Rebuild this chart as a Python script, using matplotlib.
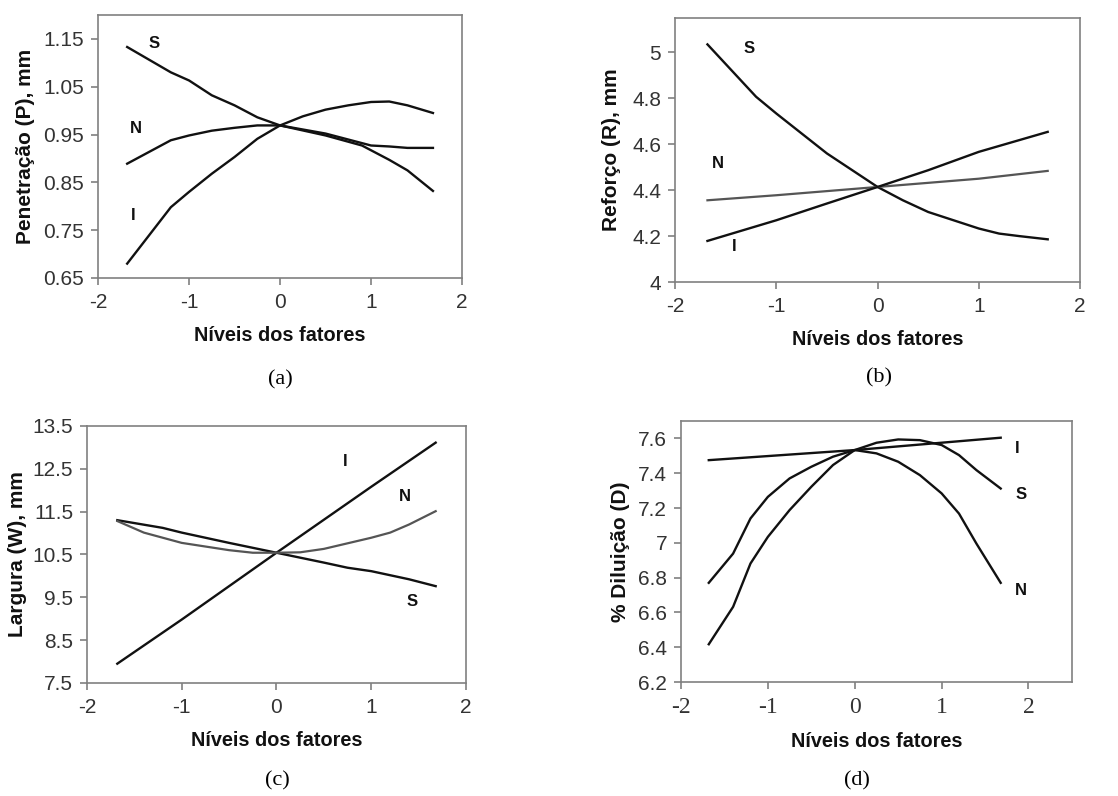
import matplotlib
matplotlib.use("Agg")
import matplotlib.pyplot as plt

plt.rcParams['font.family'] = ['Liberation Sans', 'DejaVu Sans']

# ---------------- data ----------------
# (a) Penetração
xa_S = [-1.68, -1.2, -1.0, -0.75, -0.5, -0.25, 0.0, 0.5, 0.9, 1.0, 1.2, 1.4, 1.68]
ya_S = [1.133, 1.080, 1.063, 1.032, 1.011, 0.986, 0.969, 0.948, 0.927, 0.917, 0.897, 0.875, 0.832]
xa_N = [-1.68, -1.2, -1.0, -0.75, -0.5, -0.25, 0.0, 0.5, 1.0, 1.2, 1.4, 1.68]
ya_N = [0.889, 0.938, 0.948, 0.958, 0.964, 0.969, 0.969, 0.952, 0.927, 0.925, 0.922, 0.922]
xa_I = [-1.68, -1.2, -1.0, -0.75, -0.5, -0.25, 0.0, 0.25, 0.5, 0.75, 1.0, 1.2, 1.4, 1.68]
ya_I = [0.680, 0.798, 0.830, 0.868, 0.903, 0.941, 0.969, 0.988, 1.002, 1.011, 1.018, 1.019, 1.011, 0.995]

# (b) Reforço
xb_S = [-1.68, -1.2, -1.0, -0.75, -0.5, -0.25, 0.0, 0.25, 0.5, 0.75, 1.0, 1.2, 1.4, 1.68]
yb_S = [5.035, 4.807, 4.734, 4.647, 4.560, 4.487, 4.414, 4.356, 4.305, 4.269, 4.233, 4.211, 4.200, 4.186]
xb_N = [-1.68, -1.0, 0.0, 1.0, 1.68]
yb_N = [4.356, 4.378, 4.414, 4.450, 4.484]
xb_I = [-1.68, -1.0, -0.5, 0.0, 0.5, 1.0, 1.68]
yb_I = [4.179, 4.269, 4.342, 4.414, 4.487, 4.567, 4.654]

# (c) Largura
xc_I = [-1.68, -1.0, 0.0, 1.0, 1.68]
yc_I = [7.95, 8.98, 10.54, 12.08, 13.11]
xc_S = [-1.68, -1.2, -1.0, -0.5, 0.0, 0.5, 0.75, 1.0, 1.4, 1.68]
yc_S = [11.30, 11.12, 11.01, 10.77, 10.54, 10.31, 10.19, 10.11, 9.92, 9.76]
xc_N = [-1.68, -1.4, -1.0, -0.5, -0.25, 0.0, 0.25, 0.5, 0.75, 1.0, 1.2, 1.4, 1.68]
yc_N = [11.28, 11.01, 10.77, 10.60, 10.54, 10.54, 10.55, 10.63, 10.76, 10.89, 11.01, 11.20, 11.51]

# (d) Diluição
xd_I = [-1.68, 0.0, 1.68]
yd_I = [7.475, 7.533, 7.604]
xd_S = [-1.68, -1.4, -1.2, -1.0, -0.75, -0.5, -0.25, 0.0, 0.25, 0.5, 0.75, 1.0, 1.2, 1.4, 1.68]
yd_S = [6.770, 6.938, 7.140, 7.264, 7.370, 7.437, 7.495, 7.533, 7.575, 7.594, 7.590, 7.562, 7.504, 7.418, 7.312]
xd_N = [-1.68, -1.4, -1.2, -1.0, -0.75, -0.5, -0.25, 0.0, 0.25, 0.5, 0.75, 1.0, 1.2, 1.4, 1.68]
yd_N = [6.417, 6.632, 6.881, 7.034, 7.188, 7.322, 7.447, 7.533, 7.514, 7.466, 7.389, 7.284, 7.168, 6.996, 6.770]

xlabel = "Níveis dos fatores"

# ---------------- figure ----------------
fig = plt.figure(figsize=(11.18, 7.96), dpi=100)
fig.patch.set_facecolor('white')

spine_col = '#808080'
tick_col = '#333333'
TICK_FS = 15
XLAB_FS = 14.3
YLAB_FS = 15


def style(ax, xlim, ylim, yticks, yticklabels, xserif=False):
    ax.set_xlim(*xlim)
    ax.set_ylim(*ylim)
    ax.set_xticks([-2, -1, 0, 1, 2])
    ax.set_xticklabels(['-2', '-1', '0', '1', '2'])
    ax.set_yticks(yticks)
    ax.set_yticklabels(yticklabels)
    for s in ax.spines.values():
        s.set_color(spine_col)
        s.set_linewidth(1.2)
    ax.tick_params(direction='out', length=5, width=1.2, color=spine_col,
                   labelcolor=tick_col, labelsize=TICK_FS)
    ax.tick_params(axis='x', pad=6)
    ax.tick_params(axis='y', pad=5)
    if xserif:
        for t in ax.get_xticklabels():
            t.set_family(['Liberation Serif', 'DejaVu Serif'])
            t.set_fontsize(17)
    ax.set_xlabel(xlabel, fontsize=XLAB_FS, fontweight='bold', color='#111111', labelpad=10)


def lbl(ax, x, y, s):
    ax.text(x, y, s, fontsize=12, fontweight='bold', color='#111111', ha='center', va='center')


blk = dict(color='#111111', lw=1.7)
gry = dict(color='#555555', lw=1.6)

# (a)
ax = fig.add_axes([0.0877, 0.6508, 0.3256, 0.3304])
ax.plot(xa_S, ya_S, **blk)
ax.plot(xa_N, ya_N, **blk)
ax.plot(xa_I, ya_I, **blk)
style(ax, (-2, 2), (0.65, 1.2), [0.65, 0.75, 0.85, 0.95, 1.05, 1.15],
      ['0.65', '0.75', '0.85', '0.95', '1.05', '1.15'])
ax.set_ylabel("Penetração (P), mm", fontsize=YLAB_FS, fontweight='bold', color='#111111', labelpad=6)
lbl(ax, -1.38, 1.14, 'S')
lbl(ax, -1.58, 0.962, 'N')
lbl(ax, -1.61, 0.78, 'I')
fig.text(280 / 1118, 1 - 380 / 796, '(a)', fontsize=16, ha='center', va='center',
         family=['Liberation Serif', 'DejaVu Serif'])

# (b)
ax = fig.add_axes([0.6038, 0.6457, 0.3623, 0.3317])
ax.plot(xb_S, yb_S, **blk)
ax.plot(xb_N, yb_N, **gry)
ax.plot(xb_I, yb_I, **blk)
style(ax, (-2, 2), (4.0, 5.15), [4.0, 4.2, 4.4, 4.6, 4.8, 5.0],
      ['4', '4.2', '4.4', '4.6', '4.8', '5'])
ax.set_ylabel("Reforço (R), mm", fontsize=YLAB_FS, fontweight='bold', color='#111111', labelpad=8)
lbl(ax, -1.27, 5.017, 'S')
lbl(ax, -1.58, 4.516, 'N')
lbl(ax, -1.42, 4.153, 'I')
fig.text(879 / 1118, 1 - 378 / 796, '(b)', fontsize=16, ha='center', va='center',
         family=['Liberation Serif', 'DejaVu Serif'])

# (c)
ax = fig.add_axes([0.0778, 0.1420, 0.3390, 0.3229])
ax.plot(xc_I, yc_I, **blk)
ax.plot(xc_S, yc_S, **blk)
ax.plot(xc_N, yc_N, **gry)
style(ax, (-2, 2), (7.5, 13.5), [7.5, 8.5, 9.5, 10.5, 11.5, 12.5, 13.5],
      ['7.5', '8.5', '9.5', '10.5', '11.5', '12.5', '13.5'])
ax.set_ylabel("Largura (W), mm", fontsize=YLAB_FS, fontweight='bold', color='#111111', labelpad=4)
lbl(ax, 0.73, 12.68, 'I')
lbl(ax, 1.35, 11.85, 'N')
lbl(ax, 1.43, 9.41, 'S')
fig.text(277 / 1118, 1 - 781 / 796, '(c)', fontsize=16, ha='center', va='center',
         family=['Liberation Serif', 'DejaVu Serif'])

# (d)
ax = fig.add_axes([0.6091, 0.1432, 0.3497, 0.3279])
ax.plot(xd_I, yd_I, **blk)
ax.plot(xd_S, yd_S, **blk)
ax.plot(xd_N, yd_N, **blk)
style(ax, (-2, 2.5), (6.2, 7.7), [6.2, 6.4, 6.6, 6.8, 7.0, 7.2, 7.4, 7.6],
      ['6.2', '6.4', '6.6', '6.8', '7', '7.2', '7.4', '7.6'], xserif=True)
ax.set_ylabel("% Diluição (D)", fontsize=YLAB_FS, fontweight='bold', color='#111111', labelpad=6)
lbl(ax, 1.87, 7.54, 'I')
lbl(ax, 1.91, 7.28, 'S')
lbl(ax, 1.91, 6.727, 'N')
fig.text(857 / 1118, 1 - 781 / 796, '(d)', fontsize=16, ha='center', va='center',
         family=['Liberation Serif', 'DejaVu Serif'])

fig.savefig('out.png', dpi=100, facecolor='white')
